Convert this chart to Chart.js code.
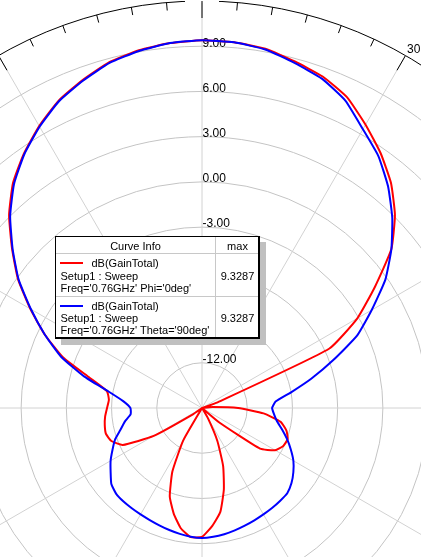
<!DOCTYPE html>
<html>
<head>
<meta charset="utf-8">
<script src="https://cdn.jsdelivr.net/npm/chart.js@4.4.0/dist/chart.umd.min.js"></script>
<style>
  html, body { margin: 0; padding: 0; width: 421px; height: 557px; overflow: hidden; background: #fff; }
  #wrap { position: absolute; left: -205px; top: 1px; width: 814px; height: 814px; }
  .box { position: absolute; left: 55px; top: 236px; width: 205px; height: 103px; box-sizing: border-box;
         border: 1px solid #000; border-right-width: 2px; border-bottom-width: 2px;
         background: #fff; box-shadow: 6px 6px 0 #c0c0c0; }
  .rule { position: absolute; background: #c8c8c8; }
  .swatch { position: absolute; left: 60px; width: 23px; height: 2px; }
  .lg { position: absolute; font: 11px/12px "Liberation Sans", Arial, sans-serif; color: #000; white-space: nowrap; }
  .mid { text-align: center; }
</style>
</head>
<body>
<div id="wrap"><canvas id="polar"></canvas></div>

<!-- Curve Info box -->
<div class="box"></div>
<div class="rule" style="left:56px; top:253px; width:202px; height:1px;"></div>
<div class="rule" style="left:56px; top:296px; width:202px; height:1px;"></div>
<div class="rule" style="left:215px; top:237px; width:1px; height:100px;"></div>
<div class="lg mid" style="left:56px; top:239.7px; width:159px;">Curve Info</div>
<div class="lg mid" style="left:216px; top:239.7px; width:43px;">max</div>

<div class="swatch" style="top:262px; background:#ff0000;"></div>
<div class="lg" style="left:91.5px; top:257px;">dB(GainTotal)</div>
<div class="lg" style="left:60.5px; top:270px;">Setup1 : Sweep</div>
<div class="lg" style="left:60.5px; top:282.3px;">Freq='0.76GHz' Phi='0deg'</div>
<div class="lg mid" style="left:216px; top:270px; width:43px;">9.3287</div>

<div class="swatch" style="top:305px; background:#0000ff;"></div>
<div class="lg" style="left:91.5px; top:300px;">dB(GainTotal)</div>
<div class="lg" style="left:60.5px; top:312.3px;">Setup1 : Sweep</div>
<div class="lg" style="left:60.5px; top:324px;">Freq='0.76GHz' Theta='90deg'</div>
<div class="lg mid" style="left:216px; top:312px; width:43px;">9.3287</div>

<script>
// ──────────────────────────────────────────────
// Radiation pattern, dB(GainTotal), 0.76 GHz
// values in 5° steps
// ──────────────────────────────────────────────

const ANGLES = [
  0, 5, 10, 15, 20, 25, 30, 35, 40, 45, 50, 55,
  60, 65, 70, 75, 80, 85, 90, 95, 100, 105, 110, 115,
  120, 125, 130, 135, 140, 145, 150, 155, 160, 165, 170, 175,
  180, 185, 190, 195, 200, 205, 210, 215, 220, 225, 230, 235,
  240, 245, 250, 255, 260, 265, 270, 275, 280, 285, 290, 295,
  300, 305, 310, 315, 320, 325, 330, 335, 340, 345, 350, 355,
];

// rim labels, one per 30°
const ANGLE_LABELS = ['0', '30', '60', '90', '120', '150', '-180', '-150', '-120', '-90', '-60', '-30'];

// ring values printed along the 0° spoke
const RING_LABELS = [-12, -9, -6, -3, 0, 3, 6, 9];

const R_MIN = -15;
const R_MAX = 12;
const R_STEP = 3;

// Phi = 0deg cut (red)
const GAIN_PHI0 = [
  9.40, 9.35, 9.20, 8.80, 8.40, 7.75, 6.70, 5.65, 4.50, 3.10, 1.40, -1.00,
  -3.10, -5.70, -13.90, -15.00, -15.00, -14.30, -12.60, -10.90, -9.70, -9.20, -8.95, -9.05,
  -9.40, -10.30, -13.50, -15.00, -15.00, -15.00, -14.20, -12.60, -10.90, -9.40, -8.00, -7.15,
  -6.45, -6.40, -6.90, -7.75, -8.75, -10.35, -12.50, -15.00, -15.00, -15.00, -15.00, -14.30,
  -11.30, -9.20, -8.60, -8.40, -8.45, -8.55, -8.70, -8.80, -8.60, -7.30, -5.20, -3.50,
  -1.85, -0.10, 1.45, 3.10, 4.50, 5.60, 6.60, 7.50, 8.15, 8.75, 9.10, 9.30,
];

// Theta = 90deg cut (blue)
const GAIN_THETA90 = [
  9.40, 9.35, 9.15, 8.70, 8.25, 7.50, 6.35, 5.40, 4.20, 2.85, 1.40, -0.15,
  -2.00, -3.65, -5.75, -7.50, -9.00, -10.10, -10.35, -10.20, -9.95, -9.50, -9.00, -8.50,
  -8.00, -7.60, -7.25, -7.00, -6.95, -6.90, -6.85, -6.78, -6.70, -6.60, -6.50, -6.42,
  -6.37, -6.42, -6.52, -6.62, -6.72, -6.80, -6.85, -6.88, -6.90, -6.95, -7.15, -7.60,
  -8.00, -8.45, -8.86, -9.40, -9.80, -10.25, -10.25, -9.75, -8.70, -6.90, -5.05, -3.50,
  -1.90, -0.15, 1.40, 3.00, 4.40, 5.55, 6.55, 7.45, 8.10, 8.70, 9.05, 9.30,
];

const FONT = '"Liberation Sans", Arial, sans-serif';

/** Rim ticks, rim labels and ring values (drawn under the curves) */
const polarFrame = {
  id: 'polarFrame',
  beforeDatasetsDraw(chart) {
    const s = chart.scales.r;
    const ctx = chart.ctx;
    const outer = s.getDistanceFromCenterForValue(s.max);
    ctx.save();

    // ring values, just right of the 0° spoke
    ctx.font = `12px ${FONT}`;
    ctx.fillStyle = '#000';
    ctx.textAlign = 'left';
    ctx.textBaseline = 'middle';
    RING_LABELS.forEach((v) => {
      const d = s.getDistanceFromCenterForValue(v);
      ctx.fillText(v.toFixed(2), s.xCenter + 0.5, s.yCenter - d - 3);
    });

    // the rim is broken behind the 0° label
    ctx.fillStyle = '#fff';
    ctx.fillRect(s.xCenter - 17, s.yCenter - outer - 14, 34, 15.5);

    // ticks: short every 5°, long every 30°
    ctx.strokeStyle = '#000';
    ctx.lineWidth = 1;
    ANGLES.forEach((deg, i) => {
      const len = deg % 30 === 0 ? 17 : 8;
      const a = s.getPointPosition(i, outer);
      const b = s.getPointPosition(i, outer - len);
      ctx.beginPath();
      ctx.moveTo(a.x, a.y);
      ctx.lineTo(b.x, b.y);
      ctx.stroke();
    });

    // angle labels outside the rim
    ctx.fillStyle = '#000';
    ANGLES.forEach((deg, i) => {
      if (deg % 30 !== 0) return;
      const p = s.getPointPosition(i, outer + 3);
      ctx.textAlign = (deg === 0 || deg === 180) ? 'center' : (deg < 180 ? 'left' : 'right');
      ctx.textBaseline = deg === 180 ? 'top' : 'alphabetic';
      ctx.fillText(ANGLE_LABELS[deg / 30], p.x, p.y);
    });

    ctx.restore();
  },
};

new Chart(document.getElementById('polar'), {
  type: 'radar',
  data: {
    labels: ANGLES,
    datasets: [
      {
        label: "dB(GainTotal) Phi='0deg'",
        data: GAIN_PHI0,
        borderColor: '#ff0000',
        borderWidth: 2,
        pointRadius: 0,
        fill: false,
        order: 1,
      },
      {
        label: "dB(GainTotal) Theta='90deg'",
        data: GAIN_THETA90,
        borderColor: '#0000ff',
        borderWidth: 2,
        pointRadius: 0,
        fill: false,
        order: 0,
      },
    ],
  },
  options: {
    responsive: true,
    maintainAspectRatio: false,
    animation: false,
    layout: { padding: 0 },
    elements: { line: { borderJoinStyle: 'round', tension: 0.15 } },
    scales: {
      r: {
        min: R_MIN,
        max: R_MAX,
        startAngle: 0,
        ticks: { stepSize: R_STEP, display: false },
        grid: {
          circular: true,
          lineWidth: 1,
          color: (c) => (c.tick && c.tick.value === R_MAX ? '#000' : '#c4c4c4'),
        },
        angleLines: {
          color: '#d2d2d2',
          lineWidth: (c) => (ANGLES[c.index] % 30 === 0 ? 1 : 0),
        },
        pointLabels: { display: false },
      },
    },
    plugins: {
      legend: { display: false },
      tooltip: { enabled: false },
    },
  },
  plugins: [polarFrame],
});
</script>
</body>
</html>
